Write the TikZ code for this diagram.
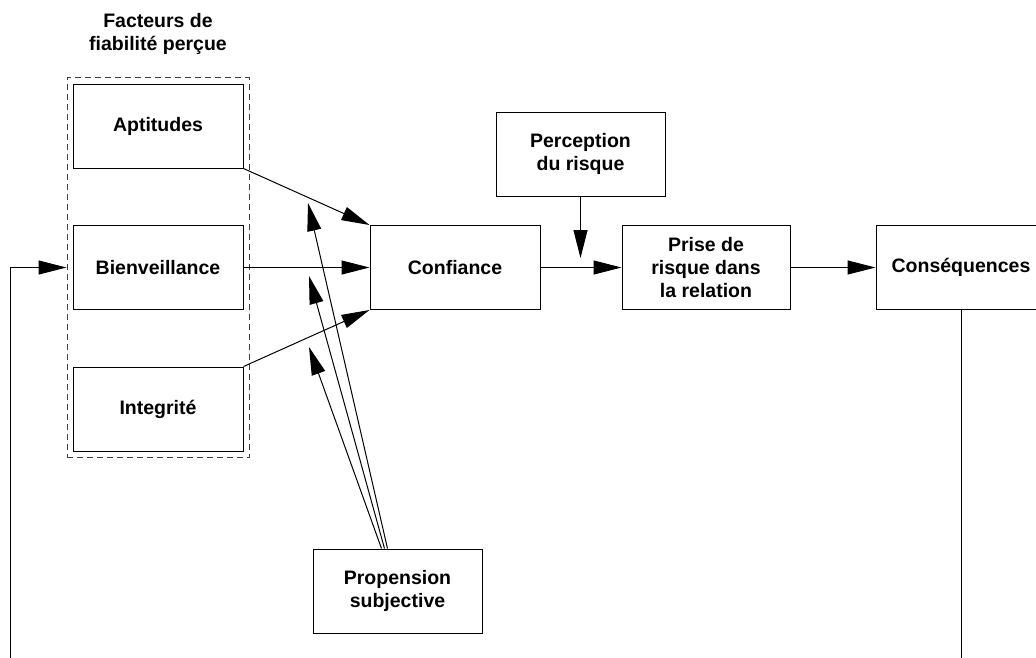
\documentclass[tikz,border=0pt]{standalone}
\usepackage{fontspec}
\setmainfont{Liberation Sans}
\usetikzlibrary{arrows.meta}
\tikzset{
  box/.style={draw=black, line width=1pt, minimum width=170pt, minimum height=84pt,
    align=center, inner sep=0pt, font=\bfseries\fontsize{19.5}{23}\selectfont},
  grpbox/.style={draw=black!75, line width=1pt, dash pattern=on 6pt off 4pt,
    minimum width=182pt, minimum height=380pt, inner sep=0pt},
  ttl/.style={align=center, font=\bfseries\fontsize{19.5}{23}\selectfont},
  conn/.style={line width=1pt, -{Triangle[length=28pt,width=14pt]}},
  plain/.style={line width=1pt}
}
\begin{document}
\begin{tikzpicture}[x=1pt,y=-1pt]
\useasboundingbox (0,0) rectangle (1036,657);
\clip (0,0) rectangle (1036,657);
\fill[white] (0,0) rectangle (1036,657);
% group
\node[grpbox] (grp) at (158,267.5) {};
\node[ttl] (title) at (158,34) {Facteurs de\\fiabilité perçue};
% boxes
\node[box] (apt) at (158,126) {Aptitudes};
\node[box] (bien) at (158,267.5) {Bienveillance};
\node[box] (integ) at (158,409) {Integrité};
\node[box] (conf) at (455,267.5) {Confiance};
\node[box, minimum width=169pt] (perc) at (580.5,154) {Perception\\du risque};
\node[box, minimum width=168pt] (prise) at (706,267.5) {Prise de\\risque dans\\la relation};
\node[box] (cons) at (961,267.5) {Conséquences};
\node[box, minimum width=169pt] (prop) at (397.5,591) {Propension\\subjective};
% coordinates
\coordinate (riskmod) at (580.5,258);
\coordinate (m1) at (308,203);
\coordinate (m2) at (309,276);
\coordinate (m3) at (309,347);
\coordinate (loopR) at (961,665);
\coordinate (loopL) at (10,665);
% connectors
\draw[conn] (apt.south east) -- (conf.north west);
\draw[conn] (bien.east) -- (conf.west);
\draw[conn] (integ.north east) -- (conf.south west);
\draw[conn] (conf.east) -- (prise.west);
\draw[conn] (perc.south) -- (riskmod);
\draw[conn] (prise.east) -- (cons.west);
\draw[plain] (cons.south) -- (loopR);
\draw[conn] (loopL) |- (grp.west);
\draw[conn] ([xshift=-10pt]prop.north) -- (m1);
\draw[conn] ([xshift=-13pt]prop.north) -- (m2);
\draw[conn] ([xshift=-16pt]prop.north) -- (m3);
\end{tikzpicture}
\end{document}
